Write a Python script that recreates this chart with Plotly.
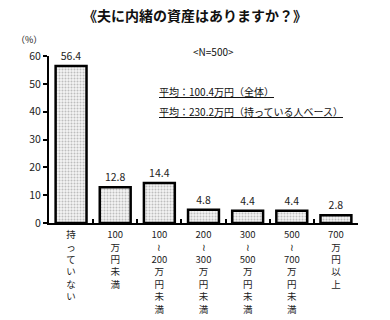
import plotly.graph_objects as go

categories = ["持<br>っ<br>て<br>い<br>な<br>い",
              "100<br>万<br>円<br>未<br>満",
              "100<br>≀<br>200<br>万<br>円<br>未<br>満",
              "200<br>≀<br>300<br>万<br>円<br>未<br>満",
              "300<br>≀<br>500<br>万<br>円<br>未<br>満",
              "500<br>≀<br>700<br>万<br>円<br>未<br>満",
              "700<br>万<br>円<br>以<br>上"]
values = [56.4, 12.8, 14.4, 4.8, 4.4, 4.4, 2.8]
value_labels = ["56.4", "12.8", "14.4", "4.8", "4.4", "4.4", "2.8"]
y_ticks = [0, 10, 20, 30, 40, 50, 60]

FONT = "Noto Sans CJK JP"

fig = go.Figure(go.Bar(
    x=categories, y=values, text=value_labels, textposition="outside",
    textfont=dict(size=10.5, color="#222", family=FONT),
    cliponaxis=False,
    marker=dict(color="#e6e6e6", line=dict(color="black", width=2.5),
                pattern=dict(shape=".", fgcolor="#888888", bgcolor="#f4f4f4",
                             size=3, solidity=0.35)),
))

fig.update_layout(
    width=390, height=320,
    margin=dict(l=49, r=32, t=56, b=97),
    paper_bgcolor="white", plot_bgcolor="white",
    bargap=0.3, showlegend=False,
    font=dict(family=FONT, color="#222", size=10),
    xaxis=dict(showline=True, linecolor="black", linewidth=2,
               ticks="inside", tickson="boundaries", ticklen=4,
               tickcolor="black", tickwidth=2, automargin=False,
               ticklabelstandoff=2,
               tickfont=dict(size=9.5, family=FONT), tickangle=0),
    yaxis=dict(range=[0, 60], tickvals=y_ticks, showline=True,
               linecolor="black", linewidth=2, ticks="outside", ticklen=4,
               tickcolor="black", tickwidth=1.5, showgrid=False, zeroline=False,
               automargin=False,
               tickfont=dict(size=10.5, family=FONT)),
)
H = 320 - 56 - 97
W = 390 - 49 - 32
def px(x): return (x - 49) / W
def py(y): return (320 - 97 - y) / H
notes = [
    ("<b>《夫に内緒の資産はありますか？》</b>", 195, 15, "center", 14),
    ("（%）", 29, 40, "center", 9),
    ("&lt;N=500&gt;", 213, 51, "center", 10),
    ("<u>平均：100.4万円（全体）</u>", 157, 91, "left", 10),
    ("<u>平均：230.2万円（持っている人ベース）</u>", 157, 111, "left", 10),
]
for t, x, y, anc, s in notes:
    fig.add_annotation(text=t, x=px(x), y=py(y), xref="paper", yref="paper",
                       showarrow=False, xanchor=anc, yanchor="middle",
                       font=dict(size=s, family=FONT, color="#111"))

fig.write_html("out.html")
